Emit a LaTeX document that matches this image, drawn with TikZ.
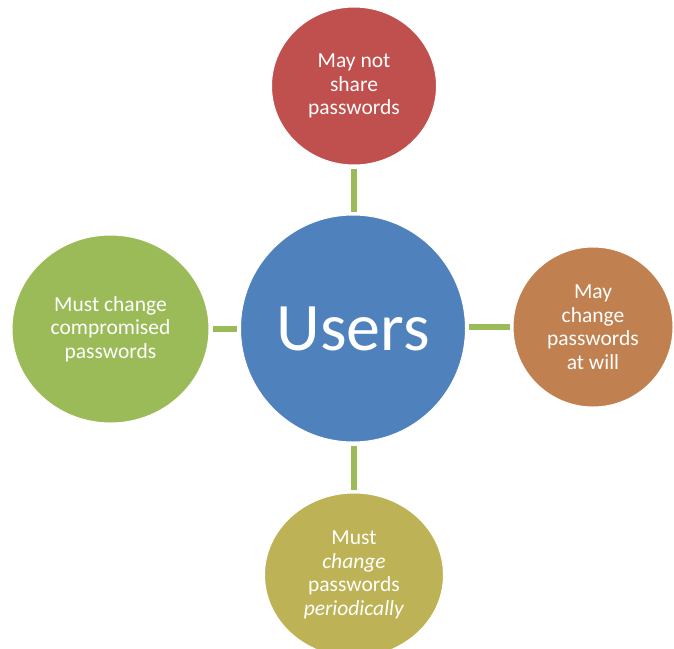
\documentclass[tikz,border=0pt]{standalone}
\usepackage{fontspec}
\setmainfont{Carlito}
\usetikzlibrary{shapes.geometric}
\definecolor{cblue}{HTML}{4F81BD}
\definecolor{cred}{HTML}{C0504D}
\definecolor{corange}{HTML}{C08050}
\definecolor{cgreen}{HTML}{9BBB59}
\definecolor{colive}{HTML}{BDB356}
\tikzset{
  bubble/.style={ellipse, inner sep=0pt, draw=white, line width=1pt, text=white, align=center,
    font=\fontsize{21.5}{23.5}\selectfont},
  link/.style={draw=cgreen, line width=5.5pt, shorten <=3pt, shorten >=3pt}
}
\begin{document}
\begin{tikzpicture}[x=1pt, y=-1pt]
\useasboundingbox (0,0) rectangle (674,648);
\node[bubble, fill=cblue, minimum width=225pt, minimum height=227pt,
  font=\fontsize{68}{72}\selectfont] (users) at (353,328.5) {Users};
\node[bubble, fill=cred, minimum width=165pt, minimum height=158pt] (top) at (354,86)
  {May not\\share\\passwords};
\node[bubble, fill=corange, minimum width=160pt, minimum height=160pt] (right) at (593,327)
  {May\\change\\passwords\\at will};
\node[bubble, fill=cgreen, minimum width=197pt, minimum height=188pt] (left) at (110.5,329)
  {Must change\\compromised\\passwords};
\node[bubble, fill=colive, minimum width=179pt, minimum height=164pt] (bottom) at (354,575)
  {Must\\\textit{change}\\passwords\\\textit{periodically}};
\draw[link] (top) -- (top |- users.north);
\draw[link] (bottom) -- (bottom |- users.south);
\draw[link] (left) -- (left -| users.west);
\draw[link] (right) -- (right -| users.east);
\end{tikzpicture}
\end{document}
